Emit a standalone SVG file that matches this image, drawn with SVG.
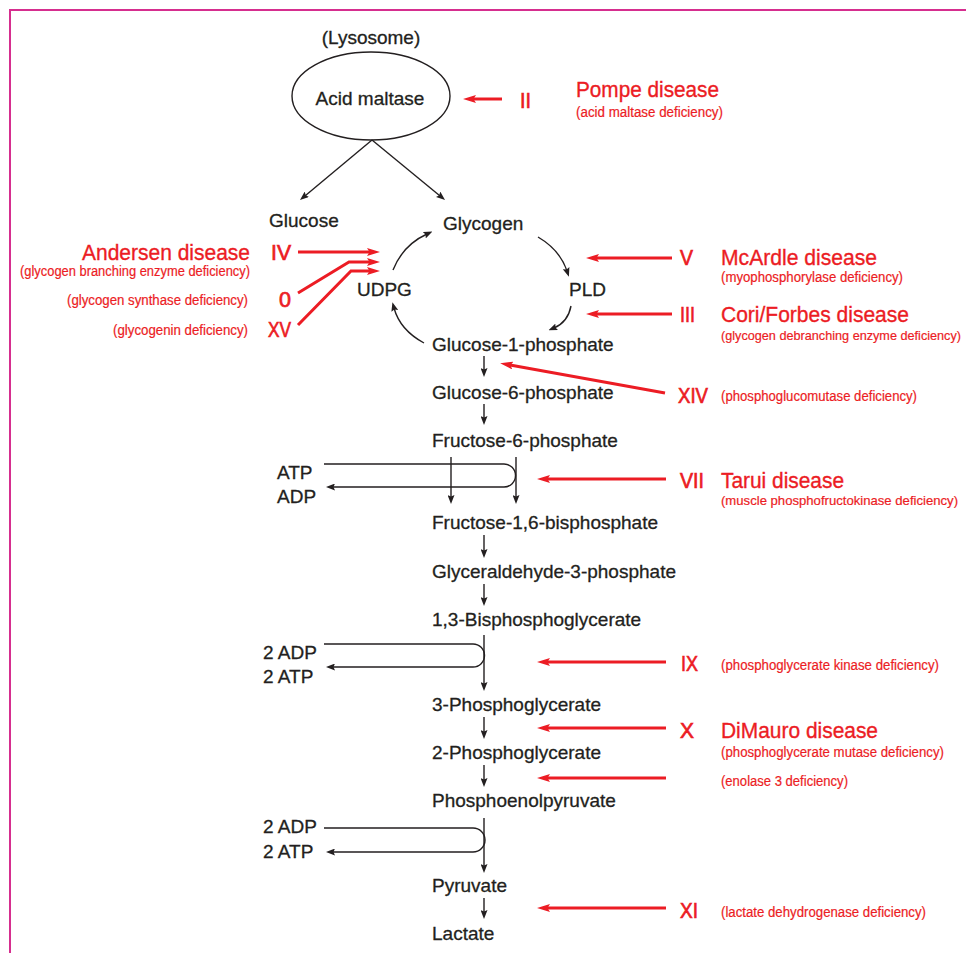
<svg xmlns="http://www.w3.org/2000/svg" width="966" height="953" viewBox="0 0 966 953">
  <style>
    text { font-family: "Liberation Sans", Arial, sans-serif; }
    .lbl { font-size: 19px; fill: #231f20; stroke: #231f20; stroke-width: 0.3; }
    .dis { font-size: 22.5px; fill: #ec1c24; stroke: #ec1c24; stroke-width: 0.35; }
    .num { font-size: 22px; fill: #ec1c24; stroke: #ec1c24; stroke-width: 0.7; }
    .sub { font-size: 14px; fill: #ec1c24; stroke: #ec1c24; stroke-width: 0.2; }
    .sub.long { font-size: 13px; }
    .ln { fill: none; stroke: #231f20; stroke-width: 1.4; }
    .rd { fill: none; stroke: #ec1c24; stroke-width: 3; }
  </style>
  <defs>
    <marker id="ah" viewBox="0 0 9 7" refX="3" refY="3.5" markerWidth="9" markerHeight="7" markerUnits="userSpaceOnUse" orient="auto">
      <path d="M0,0 L9,3.5 L0,7 L1.5,3.5 Z" fill="#231f20"/>
    </marker>
    <marker id="rh" viewBox="0 0 13 8" refX="3" refY="4" markerWidth="13" markerHeight="8" markerUnits="userSpaceOnUse" orient="auto">
      <path d="M0,0 L13,4 L0,8 L2.5,4 Z" fill="#ec1c24"/>
    </marker>
  </defs>

  <rect width="966" height="953" fill="#ffffff"/>
  <!-- frame -->
  <path d="M10,1000 V10 H1000" fill="none" stroke="#d62e8f" stroke-width="2"/>

  <!-- pathway nodes -->
  <g id="lysosome">
    <text class="lbl" x="371" y="44" text-anchor="middle">(Lysosome)</text>
    <ellipse cx="371" cy="96" rx="79" ry="44" fill="none" stroke="#231f20" stroke-width="1.4"/>
    <text class="lbl" x="370" y="105" text-anchor="middle">Acid maltase</text>
  </g>
  <g id="glucose"><text class="lbl" x="269" y="227">Glucose</text></g>
  <g id="glycogen"><text class="lbl" x="443" y="230">Glycogen</text></g>
  <g id="udpg"><text class="lbl" x="357" y="296">UDPG</text></g>
  <g id="pld"><text class="lbl" x="569" y="296">PLD</text></g>
  <g id="g1p"><text class="lbl" x="432" y="351">Glucose-1-phosphate</text></g>
  <g id="g6p"><text class="lbl" x="432" y="399">Glucose-6-phosphate</text></g>
  <g id="f6p"><text class="lbl" x="432" y="447">Fructose-6-phosphate</text></g>
  <g id="f16bp"><text class="lbl" x="432" y="529">Fructose-1,6-bisphosphate</text></g>
  <g id="ga3p"><text class="lbl" x="432" y="578">Glyceraldehyde-3-phosphate</text></g>
  <g id="bpg13"><text class="lbl" x="432" y="626">1,3-Bisphosphoglycerate</text></g>
  <g id="pg3"><text class="lbl" x="432" y="711">3-Phosphoglycerate</text></g>
  <g id="pg2"><text class="lbl" x="432" y="759">2-Phosphoglycerate</text></g>
  <g id="pep"><text class="lbl" x="432" y="807">Phosphoenolpyruvate</text></g>
  <g id="pyruvate"><text class="lbl" x="432" y="892">Pyruvate</text></g>
  <g id="lactate"><text class="lbl" x="432" y="940">Lactate</text></g>

  <g id="cofactor-pfk">
    <text class="lbl" x="277" y="479">ATP</text>
    <text class="lbl" x="277" y="503">ADP</text>
  </g>
  <g id="cofactor-pgk">
    <text class="lbl" x="263" y="659">2 ADP</text>
    <text class="lbl" x="263" y="683">2 ATP</text>
  </g>
  <g id="cofactor-pk">
    <text class="lbl" x="263" y="833">2 ADP</text>
    <text class="lbl" x="263" y="858">2 ATP</text>
  </g>

  <!-- enzyme deficiency labels -->
  <g id="pompe">
    <text class="num" x="520" y="108" textLength="11" lengthAdjust="spacingAndGlyphs">II</text>
    <text class="dis" x="576" y="97" textLength="143" lengthAdjust="spacingAndGlyphs">Pompe disease</text>
    <text class="sub" x="576" y="117" textLength="147" lengthAdjust="spacingAndGlyphs">(acid maltase deficiency)</text>
  </g>
  <g id="andersen">
    <text class="num" x="291" y="260" text-anchor="end" textLength="20" lengthAdjust="spacingAndGlyphs">IV</text>
    <text class="dis" x="250" y="260" text-anchor="end" textLength="168" lengthAdjust="spacingAndGlyphs">Andersen disease</text>
    <text class="sub" x="250" y="276" text-anchor="end" textLength="230" lengthAdjust="spacingAndGlyphs">(glycogen branching enzyme deficiency)</text>
  </g>
  <g id="gys">
    <text class="num" x="291" y="307" text-anchor="end" textLength="12" lengthAdjust="spacingAndGlyphs">0</text>
    <text class="sub" x="248" y="305" text-anchor="end" textLength="181" lengthAdjust="spacingAndGlyphs">(glycogen synthase deficiency)</text>
  </g>
  <g id="gyg">
    <text class="num" x="291" y="337" text-anchor="end" textLength="23" lengthAdjust="spacingAndGlyphs">XV</text>
    <text class="sub" x="248" y="335" text-anchor="end" textLength="135" lengthAdjust="spacingAndGlyphs">(glycogenin deficiency)</text>
  </g>
  <g id="mcardle">
    <text class="num" x="680" y="265" textLength="13" lengthAdjust="spacingAndGlyphs">V</text>
    <text class="dis" x="721" y="265" textLength="156" lengthAdjust="spacingAndGlyphs">McArdle disease</text>
    <text class="sub" x="721" y="282" textLength="182" lengthAdjust="spacingAndGlyphs">(myophosphorylase deficiency)</text>
  </g>
  <g id="cori">
    <text class="num" x="680" y="322" textLength="15" lengthAdjust="spacingAndGlyphs">III</text>
    <text class="dis" x="721" y="322" textLength="188" lengthAdjust="spacingAndGlyphs">Cori/Forbes disease</text>
    <text class="sub long" x="721" y="340" textLength="240" lengthAdjust="spacingAndGlyphs">(glycogen debranching enzyme deficiency)</text>
  </g>
  <g id="pgm">
    <text class="num" x="678" y="403" textLength="30" lengthAdjust="spacingAndGlyphs">XIV</text>
    <text class="sub" x="721" y="401" textLength="196" lengthAdjust="spacingAndGlyphs">(phosphoglucomutase deficiency)</text>
  </g>
  <g id="tarui">
    <text class="num" x="680" y="488" textLength="24" lengthAdjust="spacingAndGlyphs">VII</text>
    <text class="dis" x="721" y="488" textLength="123" lengthAdjust="spacingAndGlyphs">Tarui disease</text>
    <text class="sub long" x="721" y="505" textLength="237" lengthAdjust="spacingAndGlyphs">(muscle phosphofructokinase deficiency)</text>
  </g>
  <g id="pgk">
    <text class="num" x="681" y="671" textLength="17" lengthAdjust="spacingAndGlyphs">IX</text>
    <text class="sub" x="721" y="670" textLength="218" lengthAdjust="spacingAndGlyphs">(phosphoglycerate kinase deficiency)</text>
  </g>
  <g id="dimauro">
    <text class="num" x="680" y="738" textLength="14" lengthAdjust="spacingAndGlyphs">X</text>
    <text class="dis" x="721" y="738" textLength="157" lengthAdjust="spacingAndGlyphs">DiMauro disease</text>
    <text class="sub" x="721" y="757" textLength="223" lengthAdjust="spacingAndGlyphs">(phosphoglycerate mutase deficiency)</text>
  </g>
  <g id="enolase">
    <text class="sub" x="721" y="786" textLength="127" lengthAdjust="spacingAndGlyphs">(enolase 3 deficiency)</text>
  </g>
  <g id="ldh">
    <text class="num" x="680" y="918" textLength="18" lengthAdjust="spacingAndGlyphs">XI</text>
    <text class="sub" x="721" y="917" textLength="205" lengthAdjust="spacingAndGlyphs">(lactate dehydrogenase deficiency)</text>
  </g>

  <!-- connectors -->
  <g id="connectors">
    <!-- lysosomal breakdown -->
    <line class="ln" x1="372" y1="140" x2="304.6" y2="196.2" marker-end="url(#ah)"/>
    <line class="ln" x1="372" y1="140" x2="440.4" y2="196.2" marker-end="url(#ah)"/>
    <!-- glycogen cycle -->
    <path class="ln" d="M393,270 Q403,245 427,234" marker-end="url(#ah)"/>
    <path class="ln" d="M538,237 Q560,250 567,271" marker-end="url(#ah)"/>
    <path class="ln" d="M571,306 Q568,322 554,328" marker-end="url(#ah)"/>
    <path class="ln" d="M424,343 Q400,330 394,308" marker-end="url(#ah)"/>
    <!-- glycolysis chain -->
    <line class="ln" x1="484" y1="356" x2="484" y2="371" marker-end="url(#ah)"/>
    <line class="ln" x1="484" y1="404" x2="484" y2="419" marker-end="url(#ah)"/>
    <line class="ln" x1="451" y1="457" x2="451" y2="498" marker-end="url(#ah)"/>
    <line class="ln" x1="516" y1="457" x2="516" y2="498" marker-end="url(#ah)"/>
    <path class="ln" d="M324,464 H504 A11.5,11.5 0 0 1 504,487 H332" marker-end="url(#ah)"/>
    <line class="ln" x1="484" y1="535" x2="484" y2="552" marker-end="url(#ah)"/>
    <line class="ln" x1="484" y1="584" x2="484" y2="600" marker-end="url(#ah)"/>
    <line class="ln" x1="484" y1="635" x2="484" y2="685" marker-end="url(#ah)"/>
    <path class="ln" d="M324,644 H473 A11.5,11.5 0 0 1 473,667 H332" marker-end="url(#ah)"/>
    <line class="ln" x1="484" y1="717" x2="484" y2="733" marker-end="url(#ah)"/>
    <line class="ln" x1="484" y1="765" x2="484" y2="781" marker-end="url(#ah)"/>
    <line class="ln" x1="484" y1="818" x2="484" y2="867" marker-end="url(#ah)"/>
    <path class="ln" d="M324,828 H473 A12,12 0 0 1 473,852 H332" marker-end="url(#ah)"/>
    <line class="ln" x1="484" y1="898" x2="484" y2="913" marker-end="url(#ah)"/>
    <!-- deficiency pointers -->
    <line class="rd" x1="502" y1="99" x2="473" y2="99" marker-end="url(#rh)"/>
    <line class="rd" x1="298" y1="252" x2="370" y2="252" marker-end="url(#rh)"/>
    <polyline class="rd" points="298,293 349,262 370,262" marker-end="url(#rh)"/>
    <polyline class="rd" points="298,325 351,271 370,271" marker-end="url(#rh)"/>
    <line class="rd" x1="672" y1="258" x2="596" y2="258" marker-end="url(#rh)"/>
    <line class="rd" x1="672" y1="314" x2="596" y2="314" marker-end="url(#rh)"/>
    <line class="rd" x1="665" y1="393" x2="510" y2="365" marker-end="url(#rh)"/>
    <line class="rd" x1="666" y1="479" x2="547" y2="479" marker-end="url(#rh)"/>
    <line class="rd" x1="666" y1="662" x2="547" y2="662" marker-end="url(#rh)"/>
    <line class="rd" x1="666" y1="728" x2="547" y2="728" marker-end="url(#rh)"/>
    <line class="rd" x1="666" y1="778" x2="547" y2="778" marker-end="url(#rh)"/>
    <line class="rd" x1="666" y1="908" x2="547" y2="908" marker-end="url(#rh)"/>
  </g>
</svg>
